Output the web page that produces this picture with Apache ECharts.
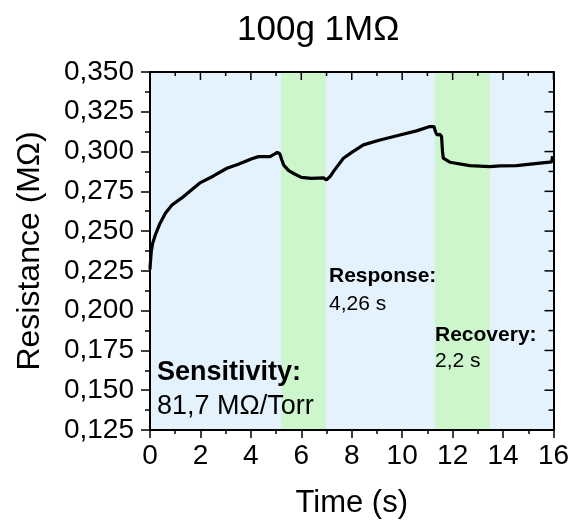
<!DOCTYPE html>
<html>
<head>
<meta charset="utf-8">
<script src="https://cdn.jsdelivr.net/npm/echarts@6/dist/echarts.min.js"></script>
<style>
html,body{margin:0;padding:0;background:#fff;}
#chart{width:579px;height:532px;}
</style>
</head>
<body>
<div id="chart"></div>
<script>
// ---- data ----
const chartTitle = '100g 1MΩ';
const timeValues = [0, 0.01, 0.03, 0.05, 0.1, 0.21, 0.4, 0.61, 0.87, 1.33, 2.0, 2.5, 3.05, 3.5, 4.04, 4.3, 4.76, 4.95, 5.05, 5.15, 5.22, 5.3, 5.5, 5.7, 6.0, 6.4, 6.88, 7.0, 7.14, 7.3, 7.67, 8.0, 8.46, 9.12, 9.91, 10.57, 11.1, 11.26, 11.33, 11.39, 11.5, 11.56, 11.6, 11.63, 11.89, 12.68, 13.48, 13.88, 14.53, 15.46, 15.85, 15.93, 15.96, 15.98];
const resistanceValues = [0.226, 0.229, 0.233, 0.237, 0.242, 0.2476, 0.255, 0.2613, 0.2664, 0.2717, 0.2805, 0.2845, 0.2895, 0.292, 0.2955, 0.2968, 0.2968, 0.2985, 0.2995, 0.2985, 0.295, 0.2915, 0.288, 0.2862, 0.2838, 0.2832, 0.2835, 0.2822, 0.2843, 0.288, 0.2958, 0.2995, 0.3042, 0.3073, 0.3104, 0.313, 0.3157, 0.3157, 0.312, 0.3104, 0.3108, 0.3095, 0.300, 0.2958, 0.2933, 0.2912, 0.2905, 0.291, 0.2912, 0.2927, 0.2933, 0.2935, 0.297, 0.2945];
const responseBand = [5.2, 6.97];
const recoveryBand = [11.3, 13.48];
const xTickValues = [0, 2, 4, 6, 8, 10, 12, 14, 16];
const yTickValues = [0.125, 0.150, 0.175, 0.200, 0.225, 0.250, 0.275, 0.300, 0.325, 0.350];
const xAxisTitle = 'Time (s)';
const yAxisTitle = 'Resistance (MΩ)';
const annotations = [
  {text: 'Sensitivity:', bold: true},
  {text: '81,7 MΩ/Torr', bold: false},
  {text: 'Response:', bold: true},
  {text: '4,26 s', bold: false},
  {text: 'Recovery:', bold: true},
  {text: '2,2 s', bold: false}
];

const FONT = 'Liberation Sans, Arial, sans-serif';
const points = timeValues.map((t, i) => [t, resistanceValues[i]]);
const xMin = xTickValues[0], xMax = xTickValues[xTickValues.length - 1];
const yMin = yTickValues[0], yMax = yTickValues[yTickValues.length - 1];

const chart = echarts.init(document.getElementById('chart'), null, {renderer: 'canvas'});

const tickStyle = {color: '#000', width: 1.5};
const fmtY = v => (Math.round(v * 1000) / 1000).toFixed(3).replace('.', ',');
function mkX(pos, labels) {
  return {
    type: 'value', position: pos, min: xMin, max: xMax, interval: 2,
    axisLine: {show: true, onZero: false, lineStyle: {color: '#000', width: 2}},
    axisTick: {show: labels, inside: !labels, length: 8, interval: 0, lineStyle: tickStyle},
    minorTick: {show: labels, splitNumber: 2, length: 4, lineStyle: tickStyle},
    axisLabel: {show: labels, color: '#000', fontFamily: FONT, fontSize: 28, margin: 12},
    splitLine: {show: false},
    name: labels ? xAxisTitle : '',
    nameLocation: 'middle', nameGap: 58,
    nameTextStyle: {color: '#000', fontFamily: FONT, fontSize: 31},
    z: 10
  };
}
function mkY(pos, labels) {
  return {
    type: 'value', position: pos, min: yMin, max: yMax, interval: 0.025,
    axisLine: {show: true, onZero: false, lineStyle: {color: '#000', width: 2}},
    axisTick: {show: labels, inside: !labels, length: 9, interval: 0, lineStyle: tickStyle},
    minorTick: {show: labels, splitNumber: 2, length: 5, lineStyle: tickStyle},
    axisLabel: {show: labels, color: '#000', fontFamily: FONT, fontSize: 28, margin: 16,
      formatter: fmtY},
    splitLine: {show: false},
    name: labels ? yAxisTitle : '',
    nameLocation: 'middle', nameGap: 104,
    nameTextStyle: {color: '#000', fontFamily: FONT, fontSize: 32},
    z: 10
  };
}

const annPos = [
  [157, 373, 27], [157, 407, 27],
  [329, 276, 21], [329, 304, 21],
  [435, 335, 21], [435, 361, 21]
];

const annGraphics = annotations.map((a, i) => ({
  type: 'text', x: annPos[i][0], y: annPos[i][1], z: 10,
  style: {
    text: a.text, fill: '#000',
    font: (a.bold ? 'bold ' : '') + annPos[i][2] + 'px ' + FONT,
    verticalAlign: 'middle', align: 'left'
  }
}));

chart.setOption({
  animation: false,
  backgroundColor: '#fff',
  title: {
    text: chartTitle, left: 232, top: 8,
    textStyle: {fontFamily: FONT, fontSize: 35, fontWeight: 'normal', color: '#000'}
  },
  grid: {left: 150, top: 72, width: 403.5, height: 358, show: true, backgroundColor: '#e4f2fe', borderWidth: 0,
    containLabel: false, outerBoundsMode: 'none'},
  xAxis: [mkX('bottom', true), mkX('top', false)],
  yAxis: [mkY('left', true), mkY('right', false)],
  series: [{
    type: 'line', data: points, xAxisIndex: 0, yAxisIndex: 0,
    showSymbol: false, smooth: false,
    lineStyle: {color: '#000', width: 3.2},
    markArea: {
      silent: true,
      itemStyle: {color: '#cdf6cc'},
      data: [
        [{xAxis: responseBand[0]}, {xAxis: responseBand[1]}],
        [{xAxis: recoveryBand[0]}, {xAxis: recoveryBand[1]}]
      ]
    },
    z: 3
  }],
  graphic: annGraphics
});

// Mirror ticks (inside) on the top and right axes, placed through the chart's own scales
const mirrorTicks = [];
const tickLine = (x1, y1, x2, y2) => ({
  type: 'line', z: 20, silent: true,
  shape: {x1: x1, y1: y1, x2: x2, y2: y2},
  style: {stroke: '#000', lineWidth: 1.5}
});
const topY = chart.convertToPixel({yAxisIndex: 0}, yMax);
const rightX = chart.convertToPixel({xAxisIndex: 0}, xMax);
for (let i = 0; i < xTickValues.length; i++) {
  const px = chart.convertToPixel({xAxisIndex: 0}, xTickValues[i]);
  mirrorTicks.push(tickLine(px, topY, px, topY + 8));
  if (i < xTickValues.length - 1) {
    const mid = (xTickValues[i] + xTickValues[i + 1]) / 2;
    const pm = chart.convertToPixel({xAxisIndex: 0}, mid);
    mirrorTicks.push(tickLine(pm, topY, pm, topY + 4));
  }
}
for (let i = 0; i < yTickValues.length; i++) {
  const py = chart.convertToPixel({yAxisIndex: 0}, yTickValues[i]);
  mirrorTicks.push(tickLine(rightX, py, rightX - 9, py));
  if (i < yTickValues.length - 1) {
    const mid = (yTickValues[i] + yTickValues[i + 1]) / 2;
    const pm = chart.convertToPixel({yAxisIndex: 0}, mid);
    mirrorTicks.push(tickLine(rightX, pm, rightX - 5, pm));
  }
}
chart.setOption({graphic: annGraphics.concat(mirrorTicks)});
</script>
</body>
</html>
